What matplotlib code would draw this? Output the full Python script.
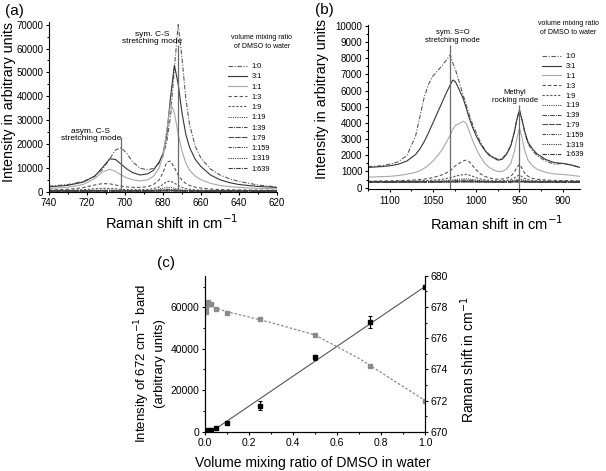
import matplotlib
matplotlib.use('Agg')
import matplotlib.pyplot as plt
from matplotlib.ticker import MultipleLocator
from matplotlib.lines import Line2D

# ratio labels (DMSO : water)
ratio_labels = ['1:0', '3:1', '1:1', '1:3', '1:9', '1:19', '1:39', '1:79', '1:159', '1:319', '1:639']

# ---- panel (a): C-S stretching region ----
wn_a = [740, 730, 722, 716, 712, 708, 705, 702, 699, 696, 692, 688, 685, 682, 680,
        678, 676, 674, 672, 670, 668, 666, 663, 660, 655, 650, 645, 640, 630, 620]
a_1_0 = [2300, 3000, 4300, 6400, 9200, 13800, 17500, 18400, 16000, 12500, 9800, 9200, 9800, 12000, 15000,
         21000, 32000, 52000, 70000, 56000, 39000, 28000, 19000, 14000, 9500, 7000, 5400, 4300, 2800, 2000]
a_3_1 = [2000, 2700, 4000, 6500, 10000, 13800, 13500, 11500, 9500, 8000, 7000, 7500, 9000, 12500, 16000,
         24000, 40000, 53000, 45000, 33000, 24000, 18500, 13500, 10500, 7000, 5000, 3800, 3000, 2200, 1800]
a_1_1 = [1300, 1900, 3000, 5500, 8200, 9400, 8500, 7000, 5800, 5000, 4500, 5000, 6500, 10000, 15000,
         26000, 37000, 33000, 24000, 17000, 12000, 9000, 6500, 5000, 3500, 2600, 2100, 1800, 1400, 1200]
a_1_3 = [700, 1000, 1700, 2800, 3400, 3300, 2800, 2300, 2000, 1800, 1800, 2100, 3000, 5000, 8000,
         12500, 12800, 10000, 7000, 4800, 3400, 2600, 1900, 1500, 1100, 900, 800, 750, 650, 600]
a_1_9 = [450, 600, 850, 1200, 1400, 1350, 1200, 1000, 900, 850, 850, 950, 1300, 2000, 3000,
         4300, 4400, 3600, 2600, 1800, 1300, 1000, 800, 650, 550, 480, 450, 430, 400, 400]
a_1_19 = [330, 380, 480, 620, 700, 690, 620, 560, 500, 470, 470, 520, 700, 1050, 1450,
          1850, 1800, 1450, 1100, 800, 620, 520, 440, 400, 360, 340, 330, 320, 310, 300]
a_1_39 = [300, 330, 380, 430, 460, 450, 420, 400, 380, 370, 370, 400, 480, 650, 850,
          1000, 980, 820, 650, 500, 420, 380, 350, 330, 310, 300, 300, 290, 290, 280]
a_1_79 = [280, 300, 320, 340, 350, 340, 330, 320, 320, 310, 320, 330, 370, 450, 550,
          620, 600, 520, 440, 370, 330, 310, 300, 290, 280, 280, 270, 270, 260, 260]
a_1_159 = [250, 260, 270, 280, 290, 280, 280, 270, 270, 270, 270, 280, 300, 340, 380,
           420, 410, 370, 330, 300, 280, 270, 260, 260, 250, 250, 250, 240, 240, 240]
a_1_319 = [230, 240, 250, 250, 260, 260, 250, 250, 250, 250, 250, 260, 270, 290, 310,
           330, 320, 300, 280, 260, 250, 240, 240, 230, 230, 230, 220, 220, 220, 220]
a_1_639 = [220, 220, 230, 230, 240, 240, 230, 230, 230, 230, 230, 240, 250, 260, 270,
           280, 280, 270, 260, 240, 230, 230, 220, 220, 220, 210, 210, 210, 210, 210]

# ---- panel (b): S=O stretching / methyl rocking region ----
wn_b = [1125, 1110, 1100, 1090, 1080, 1070, 1065, 1060, 1055, 1050, 1045, 1040, 1035, 1030, 1027,
        1024, 1020, 1015, 1012, 1008, 1004, 1000, 995, 990, 985, 980, 975, 970, 965, 960,
        956, 953, 950, 947, 944, 940, 935, 930, 920, 910, 900, 890, 880]
b_1_0 = [1300, 1350, 1450, 1600, 2000, 3200, 4400, 5600, 6400, 6900, 7200, 7500, 7850, 8200, 7700,
         7300, 6600, 5700, 5200, 4500, 3900, 3400, 2800, 2350, 2050, 1900, 1750, 1800, 2100, 2600,
         3400, 4200, 4850, 4200, 3400, 2700, 2300, 2000, 1650, 1450, 1500, 1400, 1250]
b_3_1 = [1250, 1300, 1350, 1450, 1650, 2050, 2400, 2850, 3400, 4000, 4600, 5200, 5800, 6350, 6650,
         6550, 6100, 5500, 5000, 4300, 3700, 3200, 2700, 2300, 2000, 1850, 1700, 1750, 2050, 2600,
         3400, 4200, 4750, 4200, 3500, 2800, 2400, 2100, 1750, 1550, 1500, 1400, 1250]
b_1_1 = [650, 680, 700, 750, 830, 950, 1050, 1200, 1400, 1650, 1950, 2300, 2750, 3250, 3600,
         3850, 3950, 4100, 4000, 3500, 2900, 2400, 1900, 1500, 1250, 1100, 1000, 1000, 1150, 1500,
         2200, 3000, 3700, 3100, 2300, 1700, 1350, 1150, 950, 850, 820, 760, 700]
b_1_3 = [400, 410, 420, 430, 450, 480, 500, 530, 570, 620, 700, 780, 900, 1050, 1200,
         1350, 1500, 1650, 1700, 1600, 1350, 1100, 850, 700, 600, 550, 520, 530, 580, 700,
         950, 1250, 1450, 1200, 900, 700, 580, 520, 470, 450, 440, 430, 420]
b_1_9 = [380, 390, 380, 400, 400, 410, 420, 430, 440, 460, 480, 510, 560, 610, 660,
         710, 760, 800, 820, 780, 700, 620, 540, 480, 450, 430, 420, 430, 450, 500,
         600, 700, 780, 680, 570, 490, 450, 430, 410, 400, 400, 395, 390]
b_1_19 = [370, 375, 370, 380, 380, 385, 390, 390, 395, 400, 410, 420, 440, 460, 480,
          500, 520, 540, 550, 530, 500, 470, 440, 410, 395, 385, 380, 385, 395, 420,
          460, 510, 550, 500, 450, 410, 395, 385, 380, 375, 375, 370, 370]
b_1_39 = [360, 365, 360, 365, 370, 370, 375, 375, 380, 380, 385, 390, 400, 410, 420,
          430, 445, 460, 465, 455, 440, 420, 405, 390, 380, 375, 370, 375, 380, 395,
          415, 440, 460, 430, 405, 385, 375, 370, 365, 365, 360, 360, 360]
b_1_79 = [350, 355, 350, 355, 360, 360, 360, 365, 365, 365, 370, 370, 375, 380, 385,
          390, 395, 400, 405, 400, 395, 385, 375, 370, 365, 360, 360, 360, 365, 370,
          380, 395, 405, 390, 375, 365, 360, 355, 355, 350, 350, 350, 350]
b_1_159 = [345, 350, 345, 350, 350, 350, 355, 355, 355, 355, 360, 360, 360, 365, 365,
           370, 370, 375, 375, 375, 370, 365, 360, 360, 355, 355, 355, 355, 355, 360,
           365, 370, 375, 370, 360, 355, 355, 350, 350, 345, 345, 345, 345]
b_1_319 = [340, 345, 340, 345, 345, 345, 350, 350, 350, 350, 350, 355, 355, 355, 360,
           360, 360, 365, 365, 365, 360, 360, 355, 355, 350, 350, 350, 350, 350, 350,
           355, 360, 365, 360, 355, 350, 350, 345, 345, 340, 340, 340, 340]
b_1_639 = [335, 340, 335, 340, 340, 340, 345, 345, 345, 345, 345, 345, 350, 350, 350,
           350, 355, 355, 355, 355, 355, 350, 350, 350, 345, 345, 345, 345, 345, 345,
           350, 350, 355, 350, 345, 345, 345, 340, 340, 335, 335, 335, 335]

# ---- panel (c): intensity of 672 band and its position vs. mixing ratio ----
vol_ratio = [0.0016, 0.0031, 0.0063, 0.0125, 0.025, 0.05, 0.1, 0.25, 0.5, 0.75, 1.0]
band_int = [250, 350, 450, 600, 900, 1700, 4000, 12500, 36000, 53000, 70000]
band_err = [100, 100, 100, 150, 200, 300, 400, 2200, 1200, 3000, 800]
band_pos = [677.85, 677.69, 677.97, 678.33, 678.19, 677.85, 677.63, 677.2, 676.18, 674.2, 671.97]
# linear fit of the intensity and polynomial fit of the shift
int_fit_x = [0.04, 1.0]
int_fit_y = [800, 70000]
pos_fit_x = [0.0, 0.1, 0.2, 0.3, 0.4, 0.5, 0.6, 0.7, 0.8, 0.9, 1.0]
pos_fit_y = [678.1, 677.7, 677.35, 677.0, 676.6, 676.2, 675.45, 674.7, 673.8, 672.9, 672.0]

spectra_a = [a_1_0, a_3_1, a_1_1, a_1_3, a_1_9, a_1_19, a_1_39, a_1_79, a_1_159, a_1_319, a_1_639]
spectra_b = [b_1_0, b_3_1, b_1_1, b_1_3, b_1_9, b_1_19, b_1_39, b_1_79, b_1_159, b_1_319, b_1_639]

# line style and grey level for each ratio
styles = [((0, (4, 1.5, 1, 1.5)), '#5a5a5a'),
          ('-', '#363636'),
          ('-', '#a8a8a8'),
          ((0, (3, 2)), '#555555'),
          ((0, (2, 1.5)), '#555555'),
          ((0, (1, 1)), '#4a4a4a'),
          ((0, (4, 1, 1, 1)), '#4a4a4a'),
          ((0, (5, 1)), '#4a4a4a'),
          ((0, (3, 1, 1, 1, 1, 1)), '#444444'),
          ((0, (1, 1)), '#3a3a3a'),
          ((0, (4, 1, 1, 1)), '#3a3a3a')]

plt.rcParams['font.family'] = ['Liberation Sans', 'DejaVu Sans']
plt.rcParams['axes.linewidth'] = 0.8
plt.rcParams['xtick.direction'] = 'out'
plt.rcParams['ytick.direction'] = 'out'
plt.rcParams['xtick.major.size'] = 2.5
plt.rcParams['ytick.major.size'] = 2.5
plt.rcParams['xtick.minor.size'] = 1.5
plt.rcParams['ytick.minor.size'] = 1.5
plt.rcParams['xtick.major.pad'] = 2
plt.rcParams['ytick.major.pad'] = 1.5

fig = plt.figure(figsize=(6.06, 4.71), dpi=100)


def style_axes(ax, tick_size=7):
    ax.spines['top'].set_visible(False)
    ax.spines['right'].set_visible(False)
    ax.tick_params(labelsize=tick_size, width=0.8)
    ax.tick_params(which='minor', width=0.8)


def spectra_legend(ax, x, y_title, y_top, spacing):
    ax.text(x[0], y_title, 'volume mixing ratio\nof DMSO to water', transform=ax.transAxes,
            ha='center', va='top', fontsize=5, linespacing=1.35)
    handles = [Line2D([], [], ls=s[0], color=s[1], lw=0.8) for s in styles]
    ax.legend(handles, ratio_labels, loc='upper left', bbox_to_anchor=(x[1], y_top),
              frameon=False, fontsize=5.3, handlelength=2.6, handletextpad=0.6,
              labelspacing=spacing, borderpad=0, borderaxespad=0)


# (a) C-S stretching
ax_a = fig.add_axes([0.0809, 0.5930, 0.3762, 0.3597])
for spec, (ls, col) in zip(spectra_a, styles):
    ax_a.plot(wn_a, spec, ls=ls, color=col, lw=0.8)
ax_a.vlines([702, 672], 0, [23000, 61500], color='#6a6a6a', lw=0.9)
ax_a.text(718, 23800, 'asym. C-S\nstretching mode', ha='center', va='center', fontsize=6, linespacing=1.1)
ax_a.text(685.5, 64400, 'sym. C-S\nstretching mode', ha='center', va='center', fontsize=6, linespacing=1.1)
ax_a.set_xlim(740, 620)
ax_a.set_ylim(0, 71000)
ax_a.xaxis.set_major_locator(MultipleLocator(20))
ax_a.xaxis.set_minor_locator(MultipleLocator(10))
ax_a.yaxis.set_major_locator(MultipleLocator(10000))
ax_a.yaxis.set_minor_locator(MultipleLocator(5000))
style_axes(ax_a)
ax_a.set_xlabel('Raman shift in cm$^{-1}$', fontsize=10.5)
ax_a.set_ylabel('Intensity in arbitrary units', fontsize=10.3)
ax_a.xaxis.set_label_coords(0.538, -0.125)
ax_a.yaxis.set_label_coords(-0.147, 0.53)
spectra_legend(ax_a, (0.934, 0.785), 0.93, 0.76, 0.42)

# (b) S=O stretching and methyl rocking
ax_b = fig.add_axes([0.6073, 0.5981, 0.3498, 0.3488])
for spec, (ls, col) in zip(spectra_b, styles):
    ax_b.plot(wn_b, spec, ls=ls, color=col, lw=0.8)
ax_b.vlines([1030, 950], -100, [8800, 5100], color='#6a6a6a', lw=0.9)
ax_b.text(1027, 9320, 'sym. S=O\nstretching mode', ha='center', va='center', fontsize=5.5, linespacing=1.2)
ax_b.text(955.5, 5660, 'Methyl\nrocking mode', ha='center', va='center', fontsize=5.5, linespacing=1.2)
ax_b.set_xlim(1125, 880)
ax_b.set_ylim(-100, 10050)
ax_b.xaxis.set_major_locator(MultipleLocator(50))
ax_b.xaxis.set_minor_locator(MultipleLocator(25))
ax_b.yaxis.set_major_locator(MultipleLocator(1000))
ax_b.yaxis.set_minor_locator(MultipleLocator(500))
style_axes(ax_b)
ax_b.set_xlabel('Raman shift in cm$^{-1}$', fontsize=10.5)
ax_b.set_ylabel('Intensity in arbitrary units', fontsize=10.3)
ax_b.xaxis.set_label_coords(0.607, -0.15)
ax_b.yaxis.set_label_coords(-0.186, 0.55)
spectra_legend(ax_b, (0.945, 0.819), 1.03, 0.828, 0.36)

# (c) band intensity and band position vs. volume mixing ratio
ax_c = fig.add_axes([0.3383, 0.0834, 0.3630, 0.3312])
ax_c2 = ax_c.twinx()
ax_c.plot(int_fit_x, int_fit_y, color='#555555', lw=0.8)
ax_c.errorbar(vol_ratio, band_int, yerr=band_err, fmt='s', color='black', ms=3,
              elinewidth=0.8, capsize=1.5, capthick=0.8)
ax_c2.plot(pos_fit_x, pos_fit_y, ls=(0, (2, 1.5)), color='#8a8a8a', lw=0.9)
ax_c2.plot(vol_ratio, band_pos, 's', color='#8a8a8a', ms=3)
ax_c.set_xlim(0, 1)
ax_c.set_ylim(0, 75200)
ax_c2.set_ylim(670, 680)
ax_c.xaxis.set_major_locator(MultipleLocator(0.2))
ax_c.xaxis.set_minor_locator(MultipleLocator(0.1))
ax_c.yaxis.set_major_locator(MultipleLocator(20000))
ax_c.yaxis.set_minor_locator(MultipleLocator(10000))
ax_c2.yaxis.set_major_locator(MultipleLocator(2))
ax_c2.yaxis.set_minor_locator(MultipleLocator(1))
ax_c.xaxis.set_major_formatter(plt.FormatStrFormatter('%.1f'))
for ax in (ax_c, ax_c2):
    ax.spines['top'].set_visible(False)
    ax.tick_params(labelsize=7.5, width=0.8)
    ax.tick_params(which='minor', width=0.8)
ax_c.set_xlabel('Volume mixing ratio of DMSO in water', fontsize=10)
ax_c.set_ylabel('Intensity of 672 cm$^{-1}$ band\n(arbitrary units)', fontsize=9.5)
ax_c2.set_ylabel('Raman shift in cm$^{-1}$', fontsize=10)
ax_c.xaxis.set_label_coords(0.492, -0.158)
ax_c.yaxis.set_label_coords(-0.177, 0.44)
ax_c2.yaxis.set_label_coords(1.15, 0.46)

# panel letters
fig.text(5 / 606, 1 - 10.5 / 471, '(a)', fontsize=11, va='center')
fig.text(315 / 606, 1 - 10 / 471, '(b)', fontsize=11, va='center')
fig.text(157 / 606, 1 - 262.5 / 471, '(c)', fontsize=11, va='center')

fig.savefig('out.png', dpi=100)
